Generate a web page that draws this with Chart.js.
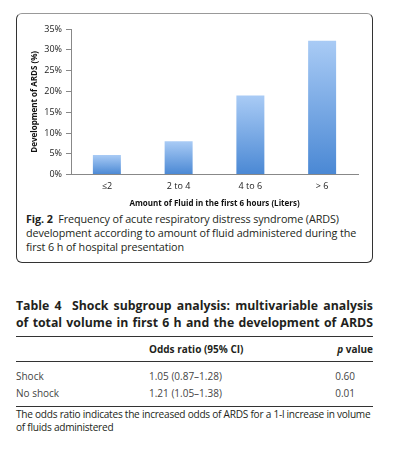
<!DOCTYPE html>
<html>
<head>
<meta charset="utf-8">
<script src="https://cdn.jsdelivr.net/npm/chart.js@4"></script>
<style>
  body { margin: 0; background: #fff; width: 395px; height: 449px; position: relative; font-family: "Open Sans", sans-serif; color: #231f20; }
  .box { position: absolute; left: 16px; top: 13px; width: 355px; height: 248px; border: 1px solid #333; border-top-color: #999; border-radius: 6px; }
  .chartwrap { position: absolute; left: 1px; top: 1px; width: 354px; height: 194px; }
  .caption { position: absolute; left: 9px; top: 198px; width: 345px; font-size: 10.8px; line-height: 14px; letter-spacing: -0.1px; }
  .caption b { font-weight: bold; }
  .ttitle { position: absolute; left: 16px; top: 297px; width: 357px; font-size: 12.3px; font-weight: bold; line-height: 17px; text-align: justify; text-align-last: justify; }
  table { position: absolute; left: 16px; top: 336px; width: 357px; border-collapse: collapse; font-size: 10px; color: #444; }
  td, th { padding: 0; }
  .hdr th { font-weight: bold; color: #231f20; height: 24px; border-top: 1px solid #333; border-bottom: 1px solid #333; text-align: left; }
  .note { position: absolute; left: 16px; top: 408px; width: 357px; font-size: 10.1px; line-height: 13px; letter-spacing: -0.25px; }
  .hline { position: absolute; left: 16px; width: 357px; height: 0; border-top: 1px solid #333; }
</style>
</head>
<body>
<div class="box">
  <div class="chartwrap"><canvas id="myChart"></canvas></div>
  <div class="caption"><b>Fig. 2</b>&nbsp; Frequency of acute respiratory distress syndrome (ARDS) development according to amount of fluid administered during the first 6 h of hospital presentation</div>
</div>

<div class="ttitle">Table 4&nbsp; Shock subgroup analysis: multivariable analysis<br><span>of total volume in first 6 h and the development of ARDS</span></div>
<table>
  <tr class="hdr"><th style="width:133px"></th><th>Odds ratio (95% CI)</th><th style="text-align:right"><i>p</i> value</th></tr>
  <tr style="height:21px; vertical-align:bottom"><td>Shock</td><td>1.05 (0.87–1.28)</td><td style="text-align:right; padding-right:18px">0.60</td></tr>
  <tr style="height:20px"><td>No shock</td><td>1.21 (1.05–1.38)</td><td style="text-align:right; padding-right:18px">0.01</td></tr>
</table>
<div class="hline" style="top:406px"></div>
<div class="note">The odds ratio indicates the increased odds of ARDS for a 1-l increase in volume of fluids administered</div>

<script>
// fluid amount groups (liters) and % that developed ARDS
let categories = ['≤2', '2 to 4', '4 to 6', '> 6'];
let ardsPct = [4.7, 8.0, 19.0, 32.2];
let yTicks = [0, 5, 10, 15, 20, 25, 30, 35];

function barGradient(context) {
  let chart = context.chart;
  if (!chart.chartArea || !chart.scales.y) return '#6fa5e6';
  let y = chart.scales.y;
  let top = y.getPixelForValue(context.raw);
  let bottom = y.getPixelForValue(0);
  let g = chart.ctx.createLinearGradient(0, top, 0, bottom);
  g.addColorStop(0, '#a9cbf5');
  g.addColorStop(1, '#4a88d4');
  return g;
}

var chart = document.getElementById("myChart").getContext("2d");
var myChart = new Chart(chart, {
  type: "bar",
  data: {
    labels: categories,
    datasets: [{
      label: "",
      data: ardsPct,
      backgroundColor: barGradient,
      borderWidth: 0,
      barPercentage: 0.78,
      categoryPercentage: 0.5,
    }],
  },
  options: {
    responsive: true,
    maintainAspectRatio: false,
    animation: false,
    layout: { padding: { top: 14, right: 14, left: 12, bottom: 0 } },
    plugins: { legend: { display: false }, tooltip: { enabled: false } },
    scales: {
      x: {
        grid: { drawOnChartArea: false, drawTicks: false },
        border: { color: '#888', width: 1 },
        ticks: { color: '#222', font: { family: 'Open Sans', size: 9 }, padding: 6 },
        title: { display: true, text: 'Amount of Fluid in the first 6 hours (Liters)', color: '#111',
                 font: { family: 'Open Sans', size: 8, weight: 'bold' }, padding: { top: 2, bottom: 0 } },
      },
      y: {
        min: 0, max: 35,
        afterBuildTicks: (s) => { s.ticks = yTicks.map(v => ({ value: v })); },
        grid: { drawOnChartArea: false, drawTicks: true, tickLength: 5, color: '#888' },
        border: { color: '#888', width: 1 },
        ticks: { color: '#222', font: { family: 'Open Sans', size: 9 }, padding: 4, callback: v => v + '%' },
        title: { display: true, text: 'Development of ARDS (%)', color: '#111',
                 font: { family: 'Open Sans', size: 8, weight: 'bold' }, padding: { top: 0, bottom: 4 } },
        afterFit: (s) => { s.width = 41; },
      },
    },
  },
});
</script>
</body>
</html>
